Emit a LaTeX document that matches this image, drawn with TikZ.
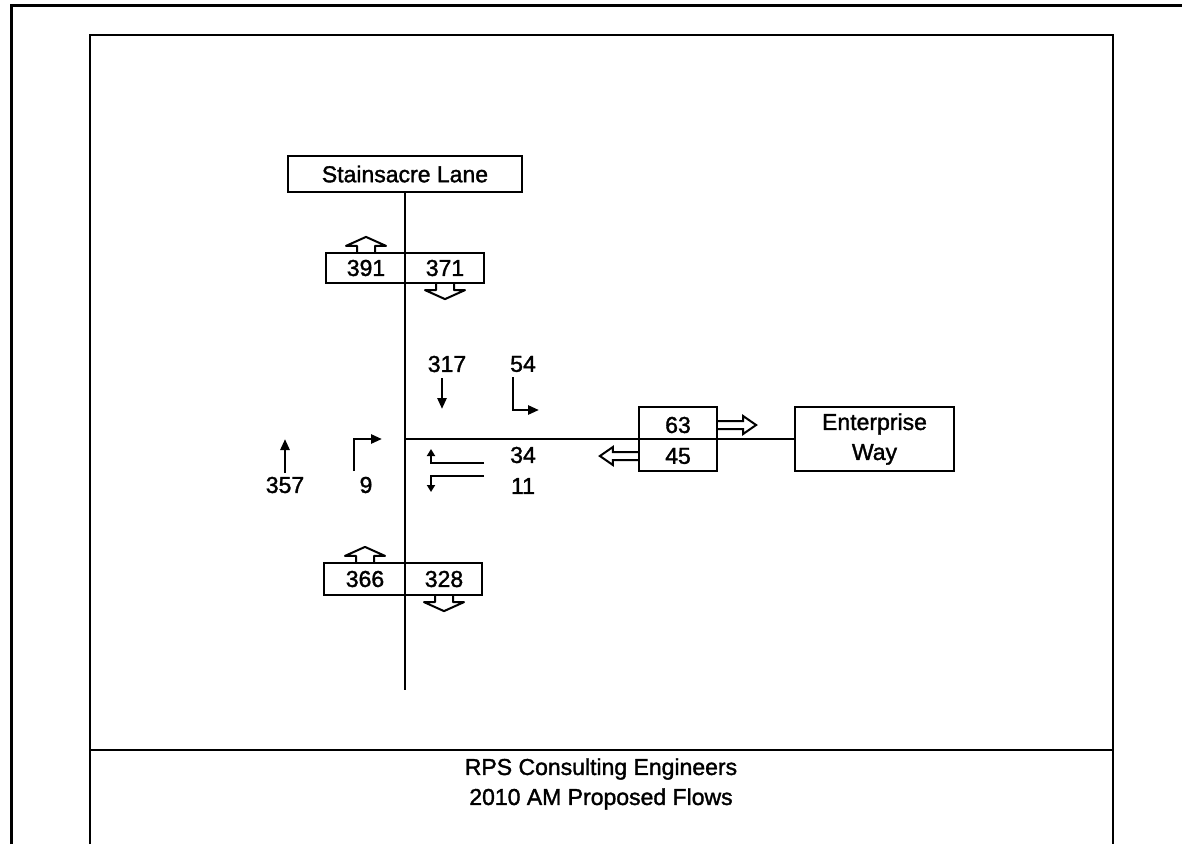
\documentclass[tikz,border=0pt]{standalone}
\usepackage{fontspec}
\setmainfont{Liberation Sans}[FakeBold=1.5]
\usetikzlibrary{positioning,calc,arrows.meta}

\tikzset{
  pics/upflow/.style={code={
    \draw[line width=2pt, line join=round] (-9,0) -- (-9,-6) -- (-20,-6) -- (0,-15) -- (20,-6) -- (9,-6) -- (9,0);}},
  pics/sideflow/.style={code={
    \draw[line width=2pt] (0,-4) -- (25,-4) -- (25,-9) -- (38,0) -- (25,9) -- (25,4) -- (0,4);}}
}

\begin{document}
\begin{tikzpicture}[x=1pt, y=-1pt, font=\fontsize{23}{30}\selectfont,
  road/.style={line width=2.4pt},
  tag/.style={draw, line width=2.2pt, inner sep=0pt},
  num/.style={inner sep=0pt},
  flow/.style={-{Triangle[length=11pt,width=9pt]}, line width=2.6pt},
  lane/.style={-{Triangle[length=7pt,width=8pt]}, line width=2.6pt}]

\useasboundingbox (0,0) rectangle (1182,844);

% frames
\draw[line width=3pt] (11,844) -- (11,5) -- (1182,5);
\draw[line width=2.8pt] (90,844) -- (90,35) -- (1113,35) -- (1113,844);
\draw[line width=2.8pt] (90,750) -- (1113,750);
\node (firm) at (601,769) {RPS Consulting Engineers};
\node (title) at (601,799) {2010 AM Proposed Flows};

% roads
\node[tag, minimum width=234pt, minimum height=36pt] (stain) at (405,174) {Stainsacre Lane};
\node[tag, minimum width=159pt, minimum height=64pt, align=center] (ent) at (874.5,439) {Enterprise\\Way};
\coordinate (south) at (405,690);
\coordinate (jn) at (405,439);

\path[road]
    (stain.south) edge (south)
    (jn) edge (ent.west);

% link counts
\node[tag, minimum width=158pt, minimum height=30pt] (ncount) at (405,268) {};
\node[num] (n391) at (366,268) {391};
\node[num] (n371) at (445,268) {371};
\node[tag, minimum width=158pt, minimum height=32pt] (scount) at (403,579) {};
\node[num] (n366) at (365,579) {366};
\node[num] (n328) at (444,579) {328};
\node[tag, minimum width=78pt, minimum height=64pt] (ecount) at (678,439) {};
\node[num] (n63) at (678,425) {63};
\node[num] (n45) at (678,456) {45};

\pic at (n391 |- ncount.north) {upflow};
\pic[rotate=180] at (n371 |- ncount.south) {upflow};
\pic at (n366 |- scount.north) {upflow};
\pic[rotate=180] at (n328 |- scount.south) {upflow};
\pic at (ecount.east |- n63) {sideflow};
\pic[rotate=180] at (ecount.west |- n45) {sideflow};

% turning counts
\node[num] (n317) at (447,364) {317};
\node[num] (n54) at (523,364) {54};
\node[num] (n34) at (523,455) {34};
\node[num] (n11) at (523,486) {11};
\node[num] (n9) at (366,485) {9};
\node[num] (n357) at (285,485) {357};

\coordinate (t317) at (442,378);
\coordinate (t54) at (513,377);
\coordinate (t34) at (484,463);
\coordinate (t11) at (484,476);
\coordinate (t9) at (354,471);
\coordinate (t357) at (285,473);

\draw[flow] (t317) -- ++(0,31);
\draw[flow] (t54) |- ++(26,33);
\draw[lane] (t34) -| ++(-53,-14);
\draw[lane] (t11) -| ++(-53,16);
\draw[flow] (t9) |- ++(28,-32);
\draw[flow] (t357) -- ++(0,-34);
\end{tikzpicture}
\end{document}
